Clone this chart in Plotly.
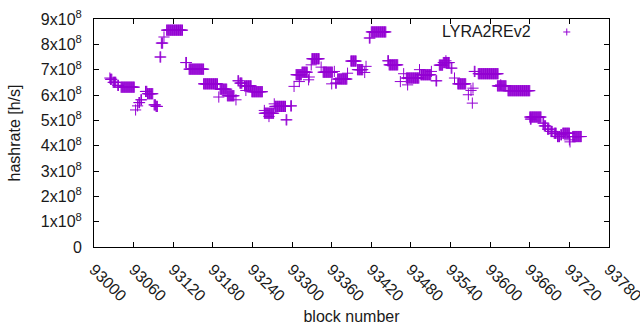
import plotly.graph_objects as go

# Runs of constant hashrate: start block, end block, value (x1e8 h/s)
run_start = [93024, 93025, 93029, 93036, 93041, 93063, 93066, 93068, 93071, 93078,
             93081, 93091, 93094, 93100, 93102, 93106, 93110, 93139, 93144, 93166,
             93189, 93191, 93202, 93215, 93218, 93221, 93228, 93230, 93239, 93258,
             93258, 93265, 93273, 93274, 93291, 93298, 93303, 93306, 93311, 93315,
             93325, 93326, 93329, 93330, 93344, 93347, 93360, 93364, 93366, 93369,
             93384, 93389, 93399, 93410, 93412, 93417, 93420, 93445, 93447, 93464,
             93469, 93473, 93475, 93493, 93495, 93511, 93518, 93523, 93529, 93533,
             93541, 93546, 93551, 93567, 93571, 93573, 93574, 93576, 93582, 93611,
             93616, 93627, 93660, 93661, 93680, 93682, 93687, 93692, 93697, 93702,
             93707, 93710, 93720, 93721, 93725]
run_end = [93024, 93027, 93033, 93037, 93061, 93063, 93066, 93069, 93072, 93080,
           93089, 93093, 93096, 93101, 93104, 93106, 93134, 93140, 93166, 93187,
           93189, 93201, 93212, 93215, 93219, 93224, 93238, 93230, 93255, 93258,
           93272, 93265, 93273, 93290, 93292, 93299, 93303, 93314, 93311, 93323,
           93325, 93326, 93329, 93341, 93344, 93361, 93360, 93364, 93367, 93383,
           93384, 93397, 93407, 93410, 93412, 93418, 93442, 93446, 93460, 93464,
           93469, 93492, 93475, 93493, 93510, 93511, 93519, 93528, 93538, 93533,
           93542, 93546, 93563, 93567, 93571, 93573, 93574, 93577, 93612, 93624,
           93616, 93660, 93677, 93662, 93681, 93684, 93689, 93694, 93700, 93705,
           93708, 93720, 93720, 93721, 93738]
run_value = [6.67, 6.62, 6.50, 6.38, 6.31, 5.41, 5.57, 5.70, 5.81, 6.14,
             6.05, 5.61, 5.55, 7.50, 8.05, 8.29, 8.56, 7.28, 7.02, 6.44,
             5.92, 6.23, 5.97, 5.81, 6.56, 6.47, 6.36, 6.18, 6.13, 5.39,
             5.28, 5.15, 5.65, 5.55, 5.02, 5.57, 6.34, 6.80, 6.53, 6.90,
             6.60, 6.71, 7.19, 7.43, 7.10, 6.90, 6.44, 6.93, 6.47, 6.63,
             6.86, 7.34, 7.00, 6.89, 7.13, 8.25, 8.49, 7.35, 7.19, 6.53,
             6.84, 6.67, 6.40, 7.00, 6.80, 6.93, 6.56, 7.18, 7.28, 7.35,
             7.06, 6.67, 6.44, 6.01, 6.18, 5.68, 6.27, 6.93, 6.84, 6.36,
             6.40, 6.17, 5.13, 5.05, 4.89, 4.78, 4.65, 4.56, 4.49, 4.36,
             4.43, 4.49, 4.23, 4.15, 4.36]

y_tickvals = [0, 1e8, 2e8, 3e8, 4e8, 5e8, 6e8, 7e8, 8e8, 9e8]
y_ticktext = ["0"] + [f"{i}x10<sup>8</sup>" for i in range(1, 10)]
x_tickvals = list(range(93000, 93781, 60))

blocks, rates = [], []
for s, e, v in zip(run_start, run_end, run_value):
    for b in range(s, e + 1):
        blocks.append(b)
        rates.append(v * 1e8)

COLOR = "#9400D3"
FONT = "Liberation Sans, Arial, sans-serif"
TXT = "#1a1a1a"

fig = go.Figure()
fig.add_trace(go.Scatter(
    x=blocks, y=rates, mode="markers", name="LYRA2REv2",
    marker=dict(symbol="cross-thin-open", size=8, color=COLOR,
                line=dict(color=COLOR, width=1)),
    showlegend=False, cliponaxis=False,
))

axis_common = dict(showline=True, linecolor="black", linewidth=1, mirror="ticks",
                   ticks="inside", ticklen=5, tickcolor="black", showgrid=False,
                   zeroline=False, automargin=False, ticklabeloverflow="allow",
                   tickfont=dict(family=FONT, size=16, color=TXT))

fig.update_xaxes(range=[93000, 93780], tickvals=x_tickvals,
                 ticktext=[str(v) for v in x_tickvals], tickangle=45,
                 ticklabelstandoff=6,
                 title=dict(text="block number", font=dict(family=FONT, size=16, color=TXT),
                            standoff=7),
                 **axis_common)
fig.update_yaxes(range=[0, 9e8], tickvals=y_tickvals, ticktext=y_ticktext,
                 ticklabelstandoff=8,
                 title=dict(text="hashrate [h/s]", font=dict(family=FONT, size=16, color=TXT),
                            standoff=16),
                 **axis_common)

# gnuplot-style key: text then sample
fig.add_annotation(x=0.852, y=0.943, xref="paper", yref="paper", text="LYRA2REv2",
                   showarrow=False, xanchor="right", yanchor="middle",
                   font=dict(family=FONT, size=16, color=TXT))
lx, ly = 0.918, 0.943
fig.add_shape(type="line", xref="paper", yref="paper", x0=lx - 3.5 / 515, x1=lx + 3.5 / 515,
              y0=ly, y1=ly, line=dict(color=COLOR, width=1))
fig.add_shape(type="line", xref="paper", yref="paper", x0=lx, x1=lx,
              y0=ly - 3.5 / 228, y1=ly + 3.5 / 228, line=dict(color=COLOR, width=1))

fig.update_layout(width=640, height=330, margin=dict(l=94, r=31, t=19, b=83),
                  plot_bgcolor="white", paper_bgcolor="white",
                  font=dict(family=FONT, size=16, color=TXT))

fig.write_html("out.html", config={"displayModeBar": False},
               post_script="document.body.style.margin='0';document.body.style.overflow='hidden';")
